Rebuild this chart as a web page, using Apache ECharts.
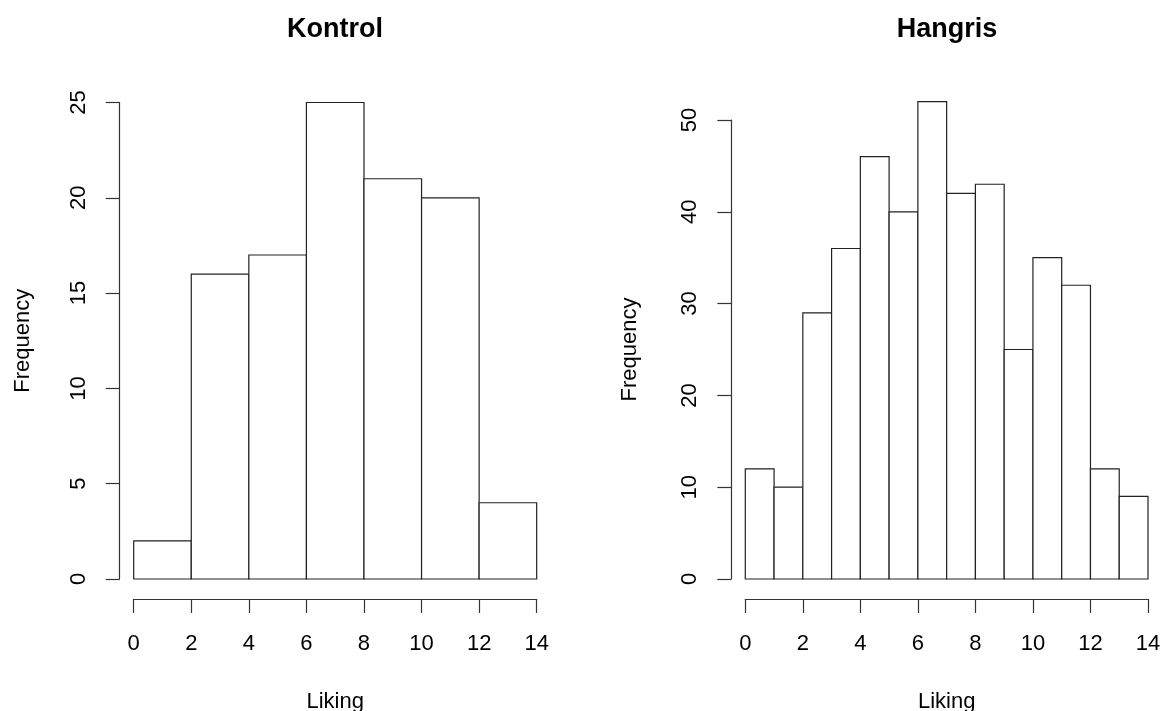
<!DOCTYPE html>
<html>
<head>
<meta charset="utf-8">
<script src="https://cdn.jsdelivr.net/npm/echarts@6/dist/echarts.min.js"></script>
<style>
html,body{margin:0;padding:0;background:#fff;}
#chart{width:1163px;height:711px;}
</style>
</head>
<body>
<div id="chart"></div>
<script>
// ---- data ----
const titles = ['Kontrol', 'Hangris'];
const xLabel = 'Liking';
const yLabel = 'Frequency';
const kontrolEdges = [0, 2, 4, 6, 8, 10, 12, 14];
const kontrolCounts = [2, 16, 17, 25, 21, 20, 4];
const hangrisEdges = [0, 1, 2, 3, 4, 5, 6, 7, 8, 9, 10, 11, 12, 13, 14];
const hangrisCounts = [12, 10, 29, 36, 46, 40, 52, 42, 43, 25, 35, 32, 12, 9];

function binData(edges, counts) {
  return counts.map((c, i) => [edges[i], edges[i + 1], c]);
}

const FONT = '"Liberation Sans", Arial, sans-serif';
const INK = '#222';
const LINE = '#333';

function renderBin(params, api) {
  const p0 = api.coord([api.value(0), api.value(2)]);
  const p1 = api.coord([api.value(1), 0]);
  return {
    type: 'rect',
    shape: { x: p0[0], y: p0[1], width: p1[0] - p0[0], height: p1[1] - p0[1] },
    style: { fill: '#fff', stroke: INK, lineWidth: 1.2 }
  };
}

function visibleX(gridIndex) {
  return {
    type: 'value', gridIndex, min: 0, max: 14, interval: 2, position: 'bottom', offset: 20,
    axisLine: { show: true, onZero: false, lineStyle: { color: LINE, width: 1.2 } },
    axisTick: { show: true, inside: false, length: 14, lineStyle: { color: LINE, width: 1.2 } },
    axisLabel: { show: true, margin: 34, color: '#000', fontSize: 22, fontFamily: FONT },
    splitLine: { show: false },
    name: xLabel, nameLocation: 'middle', nameGap: 92,
    nameTextStyle: { color: '#000', fontSize: 22, fontFamily: FONT }
  };
}
function visibleY(gridIndex, max, interval, nameGap) {
  return {
    type: 'value', gridIndex, min: 0, max, interval, position: 'left', offset: 14,
    axisLine: { show: true, onZero: false, lineStyle: { color: LINE, width: 1.2 } },
    axisTick: { show: true, inside: false, length: 14, lineStyle: { color: LINE, width: 1.2 } },
    axisLabel: { show: true, rotate: 90, margin: 30, color: '#000', fontSize: 22, fontFamily: FONT },
    splitLine: { show: false },
    name: yLabel, nameLocation: 'middle', nameGap, nameRotate: 90,
    nameTextStyle: { color: '#000', fontSize: 22, fontFamily: FONT }
  };
}
function hiddenAxis(gridIndex, min, max) {
  return { type: 'value', gridIndex, min, max, show: false, splitLine: { show: false } };
}

const chart = echarts.init(document.getElementById('chart'), null, { renderer: 'canvas' });
chart.setOption({
  backgroundColor: '#fff',
  animation: false,
  title: [
    { text: titles[0], left: 335, top: 16, textAlign: 'center', padding: 0,
      textStyle: { fontSize: 27, fontWeight: 'bold', color: '#000', fontFamily: FONT } },
    { text: titles[1], left: 947, top: 16, textAlign: 'center', padding: 0,
      textStyle: { fontSize: 27, fontWeight: 'bold', color: '#000', fontFamily: FONT } }
  ],
  grid: [
    { left: 133.7, width: 403, top: 102.5, height: 476.5, containLabel: false, outerBoundsMode: 'none' },
    { left: 745.3, width: 402.7, top: 74.1, height: 504.9, containLabel: false, outerBoundsMode: 'none' },
    { left: 745.3, width: 402.7, top: 120, height: 459, containLabel: false, outerBoundsMode: 'none' }
  ],
  xAxis: [visibleX(0), visibleX(1), hiddenAxis(2, 0, 14)],
  yAxis: [visibleY(0, 25, 5, 86), hiddenAxis(1, 0, 55), visibleY(2, 50, 10, 90)],
  series: [
    { type: 'custom', xAxisIndex: 0, yAxisIndex: 0, renderItem: renderBin,
      encode: { x: [0, 1], y: 2 }, data: binData(kontrolEdges, kontrolCounts) },
    { type: 'custom', xAxisIndex: 1, yAxisIndex: 1, renderItem: renderBin,
      encode: { x: [0, 1], y: 2 }, data: binData(hangrisEdges, hangrisCounts) }
  ]
});
</script>
</body>
</html>
